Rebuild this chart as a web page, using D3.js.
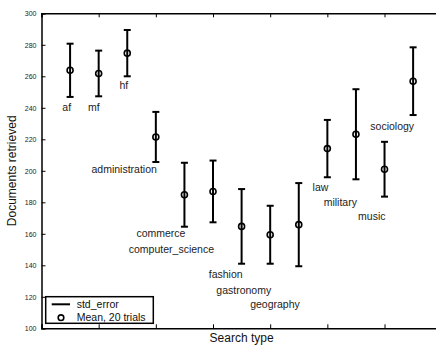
<!DOCTYPE html>
<html>
<head>
<meta charset="utf-8">
<script src="https://cdn.jsdelivr.net/npm/d3@7"></script>
<style>
  body { margin: 0; background: #fff; }
  svg { display: block; font-family: "Liberation Sans", Arial, sans-serif; }
</style>
</head>
<body>
<div id="chart"></div>
<script>
// search types, in plotting order (x = 1..13)
const categories = ["af", "mf", "hf", "administration", "commerce", "computer_science",
  "fashion", "gastronomy", "geography", "law", "military", "music", "sociology"];
// mean documents retrieved over 20 trials
const means = [263.8, 261.8, 274.7, 221.5, 184.8, 186.9, 164.7, 159.4, 165.8, 214.1, 223.2, 201.0, 256.9];
// standard error (half bar length)
const errors = [16.9, 14.5, 14.7, 15.9, 20.3, 19.6, 23.7, 18.4, 26.4, 18.2, 28.6, 17.4, 21.5];
// where the name of each search type is written (y, data units)
const labelY = [240.1, 240.3, 254.5, 201, 160.3, 150.3, 134.4, 124.3, 115, 189.5, 180, 171.3, 228.4];
const yTicks = [100, 120, 140, 160, 180, 200, 220, 240, 260, 280, 300];
const xTicks = [0, 2, 4, 6, 8, 10, 12, 14];

const W = 436, H = 345;
const plotLeft = 41.5, plotTop = 13.3, plotRight = 441.7, plotBottom = 328.3;

const svg = d3.select("#chart").append("svg")
  .attr("width", W)
  .attr("height", H);

const x = d3.scaleLinear().domain([0, 14]).range([plotLeft, plotRight]);
const y = d3.scaleLinear().domain([100, 300]).range([plotBottom, plotTop]);

// axes: ticks point inward, no x tick labels
const gx = svg.append("g")
  .attr("transform", "translate(0," + plotBottom + ")")
  .call(d3.axisBottom(x).tickValues(xTicks).tickSize(-4).tickFormat(""));
const gxTop = svg.append("g")
  .attr("transform", "translate(0," + plotTop + ")")
  .call(d3.axisTop(x).tickValues(xTicks).tickSize(-4).tickFormat(""));
const gy = svg.append("g")
  .attr("transform", "translate(" + plotLeft + ",0)")
  .call(d3.axisLeft(y).tickValues(yTicks).tickSize(-4).tickPadding(5));

[gx, gxTop, gy].forEach(g => {
  g.select(".domain").attr("stroke", "#000").attr("stroke-width", 1.5);
  g.selectAll(".tick line").attr("stroke", "#000").attr("stroke-width", 1);
});
gy.selectAll(".tick text")
  .attr("font-size", 7)
  .attr("fill", "#222")
  .attr("font-family", "Liberation Sans, Arial, sans-serif");

// error bars
const bars = svg.append("g").attr("class", "bars");
const capW = 3.5;
categories.forEach((c, i) => {
  const cx = x(i + 1);
  const y0 = y(means[i] - errors[i]);
  const y1 = y(means[i] + errors[i]);
  bars.append("line")
    .attr("x1", cx).attr("x2", cx).attr("y1", y0).attr("y2", y1)
    .attr("stroke", "#000").attr("stroke-width", 2);
  [y0, y1].forEach(yy => {
    bars.append("line")
      .attr("x1", cx - capW).attr("x2", cx + capW).attr("y1", yy).attr("y2", yy)
      .attr("stroke", "#000").attr("stroke-width", 2);
  });
});

// mean markers
svg.append("g").selectAll("circle")
  .data(means)
  .enter()
  .append("circle")
  .attr("cx", (d, i) => x(i + 1))
  .attr("cy", d => y(d))
  .attr("r", 3)
  .attr("fill", "none")
  .attr("stroke", "#000")
  .attr("stroke-width", 1.6);

// category names
svg.append("g").selectAll("text")
  .data(categories)
  .enter()
  .append("text")
  .attr("x", (d, i) => x(i + 1) + 1)
  .attr("y", (d, i) => y(labelY[i]))
  .attr("dy", "0.35em")
  .attr("text-anchor", "end")
  .attr("font-size", 10.5)
  .attr("fill", "#222")
  .text(d => d);

// axis titles
svg.append("text")
  .attr("x", (plotLeft + plotRight) / 2)
  .attr("y", 342)
  .attr("text-anchor", "middle")
  .attr("font-size", 12)
  .attr("fill", "#111")
  .text("Search type");
svg.append("text")
  .attr("transform", "translate(16," + ((plotTop + plotBottom) / 2) + ") rotate(-90)")
  .attr("text-anchor", "middle")
  .attr("font-size", 12)
  .attr("fill", "#111")
  .text("Documents retrieved");

// legend
const lg = svg.append("g").attr("transform", "translate(45.7,296.7)");
lg.append("rect")
  .attr("width", 107.6).attr("height", 26.6)
  .attr("fill", "#fff").attr("stroke", "#000").attr("stroke-width", 1.5);
lg.append("line")
  .attr("x1", 6).attr("x2", 24.3).attr("y1", 7.6).attr("y2", 7.6)
  .attr("stroke", "#000").attr("stroke-width", 2);
lg.append("circle")
  .attr("cx", 15.3).attr("cy", 21).attr("r", 2.8)
  .attr("fill", "none").attr("stroke", "#000").attr("stroke-width", 1.6);
lg.append("text").attr("x", 31).attr("y", 7.6).attr("dy", "0.35em")
  .attr("font-size", 10.5).attr("fill", "#111").text("std_error");
lg.append("text").attr("x", 31).attr("y", 21).attr("dy", "0.35em")
  .attr("font-size", 10.5).attr("fill", "#111").text("Mean, 20 trials");
</script>
</body>
</html>
